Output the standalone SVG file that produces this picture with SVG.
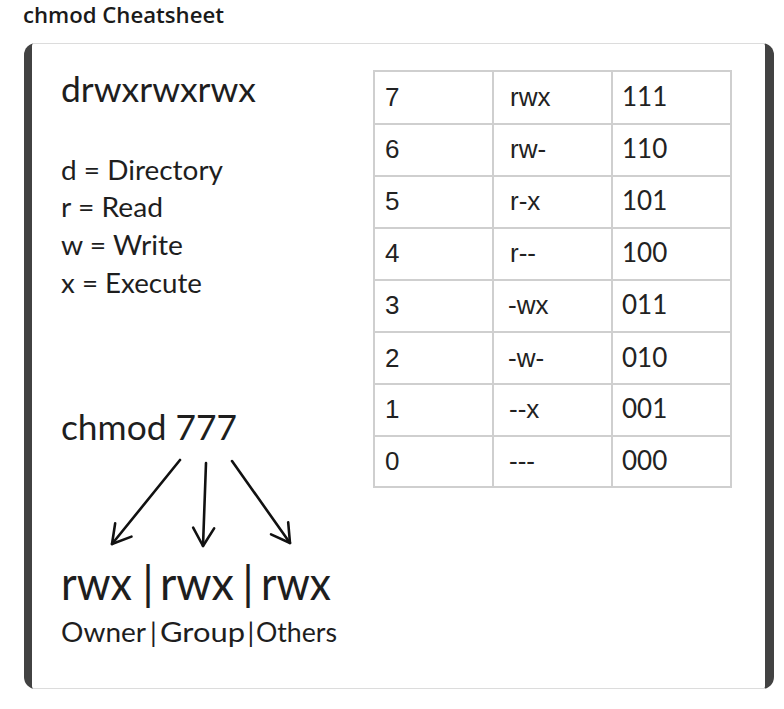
<svg xmlns="http://www.w3.org/2000/svg" width="784" height="709" viewBox="0 0 784 709">
<style>
.cal{font-family:Lato,"Open Sans","Liberation Sans",sans-serif;fill:#1e1e1e}
.big{font-size:46px}
.mid{font-size:27px}
.tb{font-family:"Liberation Sans",Arial,sans-serif;font-size:26px;fill:#222}
.tc{font-family:Lato,"Liberation Sans",sans-serif;font-size:26px;fill:#222}
.grid{stroke:#cfcfcf;stroke-width:2;fill:none}
.arrow{stroke:#111;stroke-width:2.6;fill:none;stroke-linecap:round;marker-end:url(#open)}
</style>
<defs>
<marker id="open" markerUnits="userSpaceOnUse" viewBox="-24 -14 28 28" markerWidth="28" markerHeight="28" refX="0" refY="0" orient="auto">
<path d="M-18,-10.5 L0,0 L-18,10.5" fill="none" stroke="#111" stroke-width="2.6" stroke-linecap="round" stroke-linejoin="round"/>
</marker>
</defs>
<rect width="784" height="709" fill="#fff"/>
<g id="title">
<text x="23" y="23" font-family="'Open Sans','Liberation Sans',sans-serif" font-weight="600" font-size="22" fill="#1a1a1a" textLength="201" lengthAdjust="spacingAndGlyphs">chmod Cheatsheet</text>
</g>
<g id="card">
<rect x="24" y="43" width="750" height="646" rx="12" fill="#424242"/>
<rect x="32" y="43" width="733" height="646" rx="3" fill="#fff"/>
<line x1="33" y1="43.5" x2="765" y2="43.5" stroke="#dcdcdc" stroke-width="1"/>
<line x1="33" y1="688.5" x2="765" y2="688.5" stroke="#dcdcdc" stroke-width="1"/>
</g>
<g id="perm-string">
<text class="cal" x="61" y="102" font-size="35" textLength="195" lengthAdjust="spacingAndGlyphs">drwxrwxrwx</text>
</g>
<g id="legend">
<text class="cal mid" x="61" y="180" textLength="162" lengthAdjust="spacingAndGlyphs">d = Directory</text>
<text class="cal mid" x="61" y="217" textLength="102" lengthAdjust="spacingAndGlyphs">r = Read</text>
<text class="cal mid" x="61" y="255" textLength="122" lengthAdjust="spacingAndGlyphs">w = Write</text>
<text class="cal mid" x="61" y="293" textLength="141" lengthAdjust="spacingAndGlyphs">x = Execute</text>
</g>
<g id="table">
<rect class="grid" x="374" y="71" width="357" height="416"/>
<line class="grid" x1="493" y1="71" x2="493" y2="487"/>
<line class="grid" x1="612" y1="71" x2="612" y2="487"/>
<line class="grid" x1="374" y1="124" x2="731" y2="124"/>
<line class="grid" x1="374" y1="176" x2="731" y2="176"/>
<line class="grid" x1="374" y1="228" x2="731" y2="228"/>
<line class="grid" x1="374" y1="280" x2="731" y2="280"/>
<line class="grid" x1="374" y1="332" x2="731" y2="332"/>
<line class="grid" x1="374" y1="384" x2="731" y2="384"/>
<line class="grid" x1="374" y1="436" x2="731" y2="436"/>
<text class="tb" x="385" y="106">7</text><text class="tb" x="510" y="106">rwx</text><text class="tc" x="622" y="106">111</text>
<text class="tb" x="385" y="158">6</text><text class="tb" x="510" y="158">rw-</text><text class="tc" x="622" y="158">110</text>
<text class="tb" x="385" y="210">5</text><text class="tb" x="510" y="210">r-x</text><text class="tc" x="622" y="210">101</text>
<text class="tb" x="385" y="262">4</text><text class="tb" x="510" y="262">r--</text><text class="tc" x="622" y="262">100</text>
<text class="tb" x="385" y="314">3</text><text class="tb" x="508" y="314">-wx</text><text class="tc" x="622" y="314">011</text>
<text class="tb" x="385" y="367">2</text><text class="tb" x="508" y="367">-w-</text><text class="tc" x="622" y="367">010</text>
<text class="tb" x="385" y="418">1</text><text class="tb" x="509" y="418">--x</text><text class="tc" x="622" y="418">001</text>
<text class="tb" x="385" y="470">0</text><text class="tb" x="509" y="470">---</text><text class="tc" x="622" y="470">000</text>
</g>
<g id="chmod-777">
<text class="cal" x="61" y="440" font-size="35" textLength="176" lengthAdjust="spacingAndGlyphs">chmod 777</text>
</g>
<g id="connectors">
<line class="arrow" x1="180" y1="460" x2="112" y2="544"/>
<line class="arrow" x1="206" y1="463" x2="203" y2="546"/>
<line class="arrow" x1="232" y1="461" x2="290" y2="543"/>
</g>
<g id="rwx-triple">
<text class="cal big" y="600"><tspan x="61" textLength="71" lengthAdjust="spacingAndGlyphs">rwx</tspan><tspan x="148" text-anchor="middle">|</tspan><tspan x="160" textLength="74" lengthAdjust="spacingAndGlyphs">rwx</tspan><tspan x="248" text-anchor="middle">|</tspan><tspan x="261" textLength="70" lengthAdjust="spacingAndGlyphs">rwx</tspan></text>
</g>
<g id="owner-labels">
<text class="cal mid" y="642"><tspan x="61" textLength="85" lengthAdjust="spacingAndGlyphs">Owner</tspan><tspan x="153.5" text-anchor="middle">|</tspan><tspan x="160" textLength="85" lengthAdjust="spacingAndGlyphs">Group</tspan><tspan x="251" text-anchor="middle">|</tspan><tspan x="256" textLength="81" lengthAdjust="spacingAndGlyphs">Others</tspan></text>
</g>
</svg>
